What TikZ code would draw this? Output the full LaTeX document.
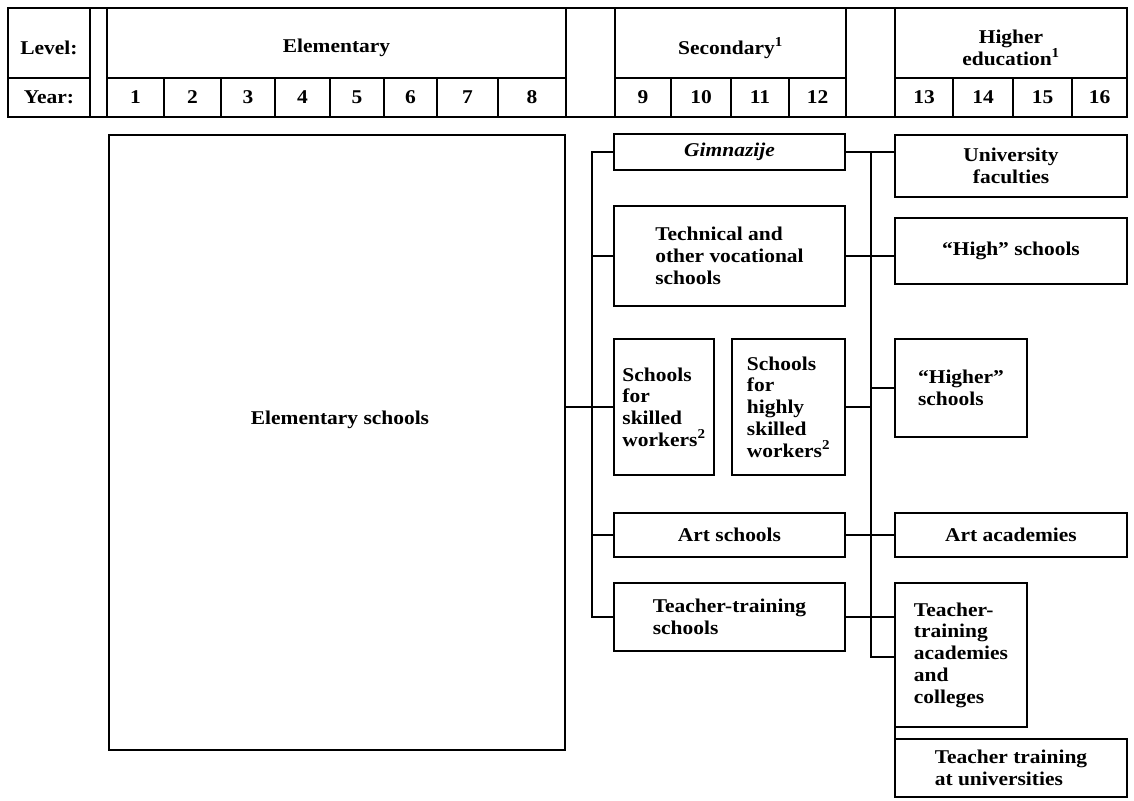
\documentclass[tikz,border=0pt]{standalone}
\usepackage{fontspec}
\setmainfont{Liberation Serif}[FakeStretch=1.1]
\begin{document}
\begin{tikzpicture}[x=1pt,y=-1pt,
  every node/.style={font=\fontsize{19.5}{21.7}\selectfont\bfseries},
  box/.style={draw, line width=1.8pt, inner sep=0pt, outer sep=0pt, anchor=north west, align=left},
  cell/.style={draw, line width=1.8pt, inner sep=0pt, outer sep=0pt, anchor=north west},
  conn/.style={line width=1.8pt}]
\useasboundingbox (0,0) rectangle (1134,800);
% ---------- header ----------
\node[cell, minimum width=82, minimum height=70] (lvl) at (8,8) {};
\node[yshift=-5pt] (lvltxt) at (lvl.center) {Level:};
\node[cell, minimum width=82, minimum height=39] (yr) at (8,78) {Year:};
\node[cell, minimum width=17, minimum height=109] (g1) at (90,8) {};
\node[cell, minimum width=459, minimum height=70] (elh) at (107,8) {};
\node[yshift=-5pt] (elhtxt) at (elh.center) {Elementary};
\foreach \a/\b/\n in {107/164/1,164/221/2,221/275/3,275/330/4,330/384/5,384/437/6,437/498/7,498/566/8,
                      615/671/9,671/731/10,731/789/11,789/846/12,
                      895/953/13,953/1013/14,1013/1072/15,1072/1127/16}
  \node[cell, minimum width={\b-\a}, minimum height=39] (y\n) at (\a,78) {\n};
\node[cell, minimum width=49, minimum height=109] (g2) at (566,8) {};
\node[cell, minimum width=231, minimum height=70] (sech) at (615,8) {};
\node[yshift=-5pt] (sectxt) at (sech.center) {Secondary\textsuperscript{1}};
\node[cell, minimum width=49, minimum height=109] (g3) at (846,8) {};
\node[cell, minimum width=232, minimum height=70] (hih) at (895,8) {};
\node[yshift=-5pt, align=center] (hitxt) at (hih.center) {Higher\\education\textsuperscript{1}};
% ---------- boxes ----------
\node[box, minimum width=456, minimum height=615] (elem) at (109,135) {};
\node (elemtxt) at (340,420) {Elementary schools};
\node[box, minimum width=231, minimum height=36] (gim) at (614,134) {\itshape Gimnazije};
\node[box, minimum width=231, minimum height=100] (tech) at (614,206) {Technical and\\other vocational\\schools};
\node[box, minimum width=100, minimum height=136] (skilled) at (614,339) {Schools\\for\\skilled\\workers\textsuperscript{2}};
\node[box, minimum width=113, minimum height=136] (highly) at (732,339) {Schools\\for\\highly\\skilled\\workers\textsuperscript{2}};
\node[box, minimum width=231, minimum height=44] (art) at (614,513) {Art schools};
\node[box, minimum width=231, minimum height=68] (tts) at (614,583) {Teacher-training\\schools};
\node[box, minimum width=232, minimum height=62, align=center] (uni) at (895,135) {University\\faculties};
\node[box, minimum width=232, minimum height=66] (high) at (895,218) {“High” schools};
\node[box, minimum width=132, minimum height=98] (higher) at (895,339) {“Higher”\\schools};
\node[box, minimum width=232, minimum height=44] (artac) at (895,513) {Art academies};
\node[box, minimum width=132, minimum height=144] (acad) at (895,583) {Teacher-\\training\\academies\\and\\colleges};
\node[box, minimum width=232, minimum height=58] (univ) at (895,739) {Teacher training\\at universities};
% ---------- connectors ----------
\coordinate (lbus) at (592,0);
\coordinate (rbus) at (871,0);
\coordinate (rbend) at (871,657);
\draw[conn] (gim.west) -- (gim.west -| lbus) -- (tts.west -| lbus) -- (tts.west);
\draw[conn] (tech.west) -- (tech.west -| lbus);
\draw[conn] (art.west) -- (art.west -| lbus);
\draw[conn] (elem.east |- skilled.west) -- (skilled.west);
\draw[conn] (gim.east) -- (gim.east -| uni.west);
\draw[conn] (gim.east -| rbus) -- (rbend) -- (rbend -| acad.west);
\draw[conn] (tech.east) -- (tech.east -| high.west);
\draw[conn] (highly.east) -- (highly.east -| rbus);
\draw[conn] (higher.west -| rbus) -- (higher.west);
\draw[conn] (art.east) -- (artac.west);
\draw[conn] (tts.east) -- (tts.east -| acad.west);
\draw[conn] (acad.south west) -- (univ.north west);
\end{tikzpicture}
\end{document}
